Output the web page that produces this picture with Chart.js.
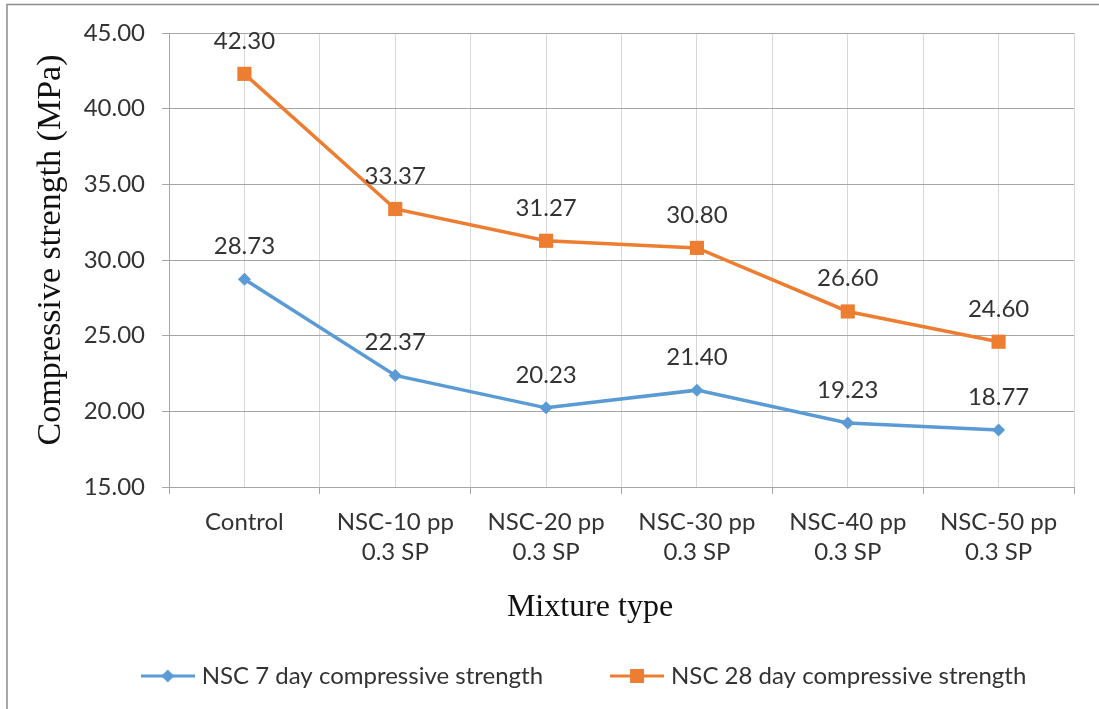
<!DOCTYPE html>
<html><head><meta charset="utf-8">
<script src="https://cdn.jsdelivr.net/npm/chart.js@4.4.1/dist/chart.umd.min.js"></script>
<style>html,body{margin:0;padding:0;background:#fff;} canvas{display:block;}</style>
</head><body>
<canvas id="c" width="1099" height="709"></canvas>
<script>
const categories = ['Control', ['NSC-10 pp', '0.3 SP'], ['NSC-20 pp', '0.3 SP'], ['NSC-30 pp', '0.3 SP'], ['NSC-40 pp', '0.3 SP'], ['NSC-50 pp', '0.3 SP']];
const day7 = [28.73, 22.37, 20.23, 21.40, 19.23, 18.77];
const day28 = [42.30, 33.37, 31.27, 30.80, 26.60, 24.60];
const seriesNames = ['NSC 7 day compressive strength', 'NSC 28 day compressive strength'];
const yTicks = [15, 20, 25, 30, 35, 40, 45];
const yTitle = 'Compressive strength (MPa)';
const xTitle = 'Mixture type';

const BLUE = '#5B9BD5', ORANGE = '#ED7D31';
const TEXT = '#333333';
const SANS = 'Lato';
const FS = 24;

function legendIcon(color, style, r) {
  const c = document.createElement('canvas');
  c.width = 54; c.height = 20;
  const g = c.getContext('2d');
  g.strokeStyle = color; g.lineWidth = 3;
  g.beginPath(); g.moveTo(0, 10); g.lineTo(54, 10); g.stroke();
  g.fillStyle = color;
  if (style === 'rect') {
    g.fillRect(27 - r, 10 - r, 2 * r, 2 * r);
  } else {
    g.beginPath(); g.moveTo(27, 10 - r); g.lineTo(27 + r, 10); g.lineTo(27, 10 + r); g.lineTo(27 - r, 10); g.closePath(); g.fill();
  }
  return c;
}
const icons = [legendIcon(BLUE, 'diamond', 6.5), legendIcon(ORANGE, 'rect', 7)];

const frame = {
  id: 'frame',
  beforeDraw(chart) {
    const ctx = chart.ctx;
    ctx.save();
    ctx.strokeStyle = '#8c8c8c'; ctx.lineWidth = 1.5;
    ctx.beginPath();
    ctx.moveTo(7, 709); ctx.lineTo(7, 4.5); ctx.lineTo(1099, 4.5);
    ctx.stroke();
    ctx.restore();
  }
};

const dataLabels = {
  id: 'dataLabels',
  afterDatasetsDraw(chart) {
    const ctx = chart.ctx;
    ctx.save();
    ctx.font = FS + 'px ' + SANS;
    ctx.fillStyle = TEXT;
    ctx.textAlign = 'center';
    ctx.textBaseline = 'alphabetic';
    chart.data.datasets.forEach((ds, di) => {
      const meta = chart.getDatasetMeta(di);
      meta.data.forEach((pt, i) => {
        ctx.fillText(ds.data[i].toFixed(2), pt.x, pt.y - 25);
      });
    });
    ctx.restore();
  }
};

const axisTitles = {
  id: 'axisTitles',
  afterDraw(chart) {
    const ctx = chart.ctx;
    ctx.save();
    ctx.fillStyle = '#111';
    ctx.textAlign = 'center';
    ctx.textBaseline = 'alphabetic';
    ctx.font = '32px "Liberation Serif"';
    ctx.fillText(xTitle, 590, 616);
    ctx.font = '34px "Liberation Serif"';
    ctx.translate(60, 250);
    ctx.rotate(-Math.PI / 2);
    ctx.fillText(yTitle, 0, 0);
    ctx.restore();
  }
};

new Chart(document.getElementById('c'), {
  type: 'line',
  data: {
    labels: categories,
    datasets: [
      { label: seriesNames[0], data: day7, borderColor: BLUE, backgroundColor: BLUE, borderWidth: 3.5,
        pointStyle: 'rectRot', pointRadius: 6.5, pointHoverRadius: 6.5, pointBorderWidth: 0, tension: 0 },
      { label: seriesNames[1], data: day28, borderColor: ORANGE, backgroundColor: ORANGE, borderWidth: 3.5,
        pointStyle: 'rect', pointRadius: 10, pointHoverRadius: 10, pointBorderWidth: 0, tension: 0 }
    ]
  },
  options: {
    responsive: false,
    animation: false,
    events: [],
    layout: { padding: { left: 73, right: 0, top: 33, bottom: 11 } },
    plugins: {
      tooltip: { enabled: false },
      legend: {
        position: 'bottom',
        labels: {
          font: { family: SANS, size: FS },
          color: TEXT,
          padding: 72,
          usePointStyle: true,
          pointStyleWidth: 44,
          generateLabels(chart) {
            const items = Chart.defaults.plugins.legend.labels.generateLabels(chart);
            items.forEach((it, i) => { it.pointStyle = icons[i]; });
            return items;
          }
        }
      }
    },
    scales: {
      x: {
        type: 'category',
        position: 'bottom',
        offset: true,
        grid: { offset: true, color: (c) => c.index === 0 ? 'rgba(0,0,0,0)' : '#d9d9d9', tickColor: '#a6a6a6', tickLength: 7, lineWidth: 1 },
        border: { color: '#a6a6a6', width: 1 },
        ticks: { font: { family: SANS, size: FS, lineHeight: 30 / FS }, color: TEXT, padding: 13, maxRotation: 0, autoSkip: false },
        afterFit(s) { s.height = 105; }
      },
      x2: {
        type: 'category',
        position: 'top',
        offset: true,
        grid: { offset: false, color: '#d9d9d9', drawTicks: false, lineWidth: 1 },
        border: { display: false },
        ticks: { display: false },
        afterFit(s) { s.height = 0; }
      },
      y: {
        type: 'linear',
        position: 'left',
        min: yTicks[0],
        max: yTicks[yTicks.length - 1],
        ticks: { stepSize: yTicks[1] - yTicks[0], font: { family: SANS, size: FS }, color: TEXT, padding: 17,
                 callback: (v) => Number(v).toFixed(2) },
        grid: { color: '#a6a6a6', tickColor: '#a6a6a6', tickLength: 7, lineWidth: 1 },
        border: { color: '#a6a6a6', width: 1 },
        afterFit(s) { s.width = 96; }
      },
      yR: {
        type: 'linear',
        position: 'right',
        display: true,
        grid: { display: false },
        border: { display: false },
        ticks: { display: false },
        afterFit(s) { s.width = 25; }
      }
    }
  },
  plugins: [frame, dataLabels, axisTitles]
});
</script>
</body></html>
